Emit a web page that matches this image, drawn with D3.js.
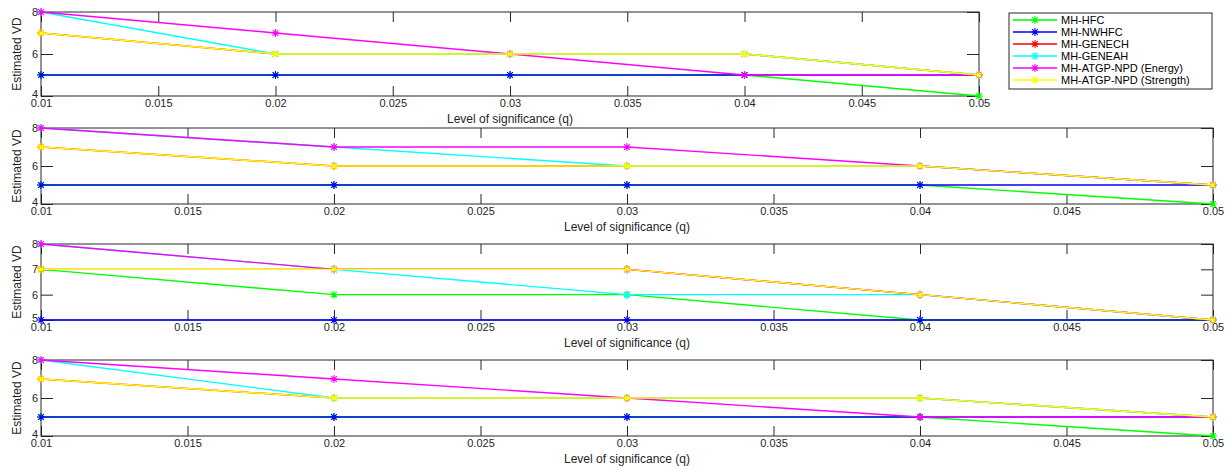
<!DOCTYPE html>
<html>
<head>
<meta charset="utf-8">
<script src="https://cdn.jsdelivr.net/npm/d3@7"></script>
<style>
  body { margin: 0; background: #fff; }
  svg { display: block; font-family: "Liberation Sans", Arial, sans-serif; }
  .tick text { fill: #262626; font-size: 11px; }
  .tick line { stroke: #262626; }
</style>
</head>
<body>
<svg id="chart"></svg>
<script>
// x values (level of significance)
const qLevels = [0.01, 0.02, 0.03, 0.04, 0.05];
const xTicks = [0.01, 0.015, 0.02, 0.025, 0.03, 0.035, 0.04, 0.045, 0.05];
const seriesNames = ['MH-HFC', 'MH-NWHFC', 'MH-GENECH', 'MH-GENEAH',
  'MH-ATGP-NPD (Energy)', 'MH-ATGP-NPD (Strength)'];
const seriesColors = ['#00ff00', '#0000ff', '#ff0000', '#00ffff', '#ff00ff', '#ffff00'];

// estimated VD, rows follow seriesNames
const panelA = [
  [5, 5, 5, 5, 4],
  [5, 5, 5, 5, 5],
  [7, 6, 6, 6, 5],
  [8, 6, 6, 6, 5],
  [8, 7, 6, 5, 5],
  [7, 6, 6, 6, 5]
];
const panelB = [
  [5, 5, 5, 5, 4],
  [5, 5, 5, 5, 5],
  [7, 6, 6, 6, 5],
  [8, 7, 6, 6, 5],
  [8, 7, 7, 6, 5],
  [7, 6, 6, 6, 5]
];
const panelC = [
  [7, 6, 6, 5, 5],
  [5, 5, 5, 5, 5],
  [7, 7, 7, 6, 5],
  [8, 7, 6, 6, 5],
  [8, 7, 7, 6, 5],
  [7, 7, 7, 6, 5]
];
const panelD = [
  [5, 5, 5, 5, 4],
  [5, 5, 5, 5, 5],
  [7, 6, 6, 6, 5],
  [8, 6, 6, 6, 5],
  [8, 7, 6, 5, 5],
  [7, 6, 6, 6, 5]
];
const yDomains = [[4, 8], [4, 8], [5, 8], [4, 8]];
const yTickSets = [[4, 6, 8], [4, 6, 8], [5, 6, 7, 8], [4, 6, 8]];

const width = 1232, height = 468;
const svg = d3.select('#chart').attr('width', width).attr('height', height);

// axes boxes (pixel layout of each subplot)
const boxes = [
  {left: 41, right: 979, top: 12, bottom: 96},
  {left: 41, right: 1213, top: 128, bottom: 204},
  {left: 41, right: 1213, top: 244, bottom: 320},
  {left: 41, right: 1213, top: 360, bottom: 436}
];
const panels = [panelA, panelB, panelC, panelD];

function starPath(r) {
  const d = r * Math.SQRT1_2;
  return `M${-r},0L${r},0M0,${-r}L0,${r}M${-d},${-d}L${d},${d}M${-d},${d}L${d},${-d}`;
}

panels.forEach((data, i) => {
  const b = boxes[i];
  const x = d3.scaleLinear().domain([0.01, 0.05]).range([b.left, b.right]);
  const y = d3.scaleLinear().domain(yDomains[i]).range([b.bottom, b.top]);
  const g = svg.append('g');

  const xb = g.append('g').attr('transform', `translate(0,${b.bottom})`)
    .call(d3.axisBottom(x).tickValues(xTicks).tickSize(-10).tickPadding(4)
      .tickFormat(d3.format('')));
  const xt = g.append('g').attr('transform', `translate(0,${b.top})`)
    .call(d3.axisTop(x).tickValues(xTicks).tickSize(-10).tickFormat(''));
  const yl = g.append('g').attr('transform', `translate(${b.left},0)`)
    .call(d3.axisLeft(y).tickValues(yTickSets[i]).tickSize(-12).tickPadding(3)
      .tickFormat(d3.format('d')));
  const yr = g.append('g').attr('transform', `translate(${b.right},0)`)
    .call(d3.axisRight(y).tickValues(yTickSets[i]).tickSize(-12).tickFormat(''));
  [xb, xt, yl, yr].forEach(a => a.select('.domain').remove());
  xb.selectAll('text').attr('dy', '0.6em');
  // lowest y label sits a little higher, as in the reference
  yl.selectAll('text').filter(d => d === yDomains[i][0]).attr('dy', '0.1em');

  g.append('rect')
    .attr('x', b.left).attr('y', b.top)
    .attr('width', b.right - b.left).attr('height', b.bottom - b.top)
    .attr('fill', 'none').attr('stroke', '#262626').attr('stroke-width', 1);

  const line = d3.line().x((d, j) => x(qLevels[j])).y(d => y(d));
  data.forEach((vals, s) => {
    g.append('path').datum(vals)
      .attr('d', line)
      .attr('fill', 'none')
      .attr('stroke', seriesColors[s])
      .attr('stroke-width', 1.4);
    g.selectAll(null).data(vals).enter().append('path')
      .attr('transform', (d, j) => `translate(${x(qLevels[j])},${y(d)})`)
      .attr('d', starPath(4))
      .attr('stroke', seriesColors[s])
      .attr('stroke-width', 1.1)
      .attr('fill', 'none');
  });

  g.append('text')
    .attr('x', (b.left + b.right) / 2)
    .attr('y', b.bottom + 27)
    .attr('text-anchor', 'middle')
    .attr('fill', '#262626')
    .attr('font-size', 12)
    .text('Level of significance (q)');

  g.append('text')
    .attr('transform', `translate(21,${(b.top + b.bottom) / 2}) rotate(-90)`)
    .attr('text-anchor', 'middle')
    .attr('fill', '#262626')
    .attr('font-size', 12)
    .text('Estimated VD');
});

// legend
const lg = svg.append('g');
lg.append('rect')
  .attr('x', 1009).attr('y', 13).attr('width', 203).attr('height', 76)
  .attr('fill', '#fff').attr('stroke', '#262626').attr('stroke-width', 1);
seriesNames.forEach((name, s) => {
  const yy = 20 + s * 12;
  lg.append('line').attr('x1', 1013).attr('x2', 1057).attr('y1', yy).attr('y2', yy)
    .attr('stroke', seriesColors[s]).attr('stroke-width', 1.4);
  lg.append('path').attr('transform', `translate(1035,${yy})`)
    .attr('d', starPath(4)).attr('stroke', seriesColors[s]).attr('stroke-width', 1.1);
  lg.append('text').attr('x', 1061).attr('y', yy).attr('dy', '0.35em')
    .attr('font-size', 11).attr('fill', '#000').text(name);
});
</script>
</body>
</html>
